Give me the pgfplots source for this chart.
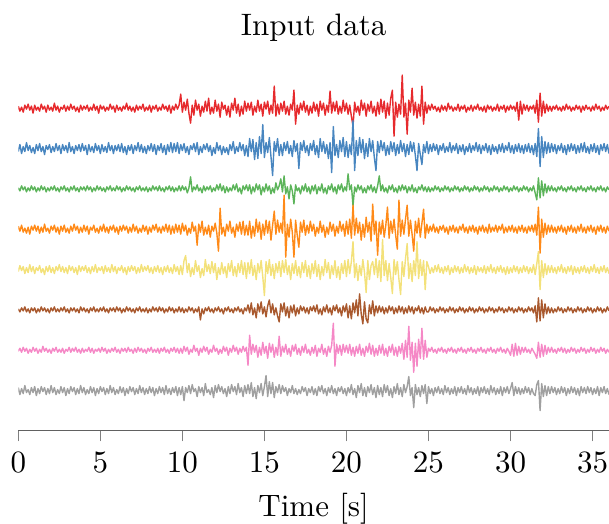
\documentclass[border=0pt]{standalone}
\usepackage{pgfplots}
\usepackage{pgfplotstable}
\pgfplotsset{compat=1.18}
\definecolor{cr}{HTML}{E62A2D}
\definecolor{cb}{HTML}{4886C0}
\definecolor{cg}{HTML}{5CB45A}
\definecolor{co}{HTML}{FF8A18}
\definecolor{cy}{HTML}{F3E17A}
\definecolor{cw}{HTML}{A9592E}
\definecolor{cp}{HTML}{F588C6}
\definecolor{ck}{HTML}{A0A0A0}
\pgfplotstableread{
t r b g o y w p k
0 2 -3 1 3 -2 1 -1 3
0.1 -3 4 -2 -2 4 -2 2 -4
0.2 1 -5 3 4 -1 2 -2 2
0.3 -4 2 -1 -3 3 -1 3 -3
0.4 3 -3 2 1 -4 3 -1 5
0.5 -1 6 -3 -4 2 -2 2 -2
0.6 4 -2 1 2 -3 1 -3 1
0.7 -2 3 -2 -5 5 -3 1 -4
0.8 2 -4 3 3 -2 2 -2 3
0.9 -5 1 -1 -1 3 -1 3 -2
1.0 3 -5 2 4 -4 2 -1 4
1.1 -2 4 -3 -2 2 -3 2 -5
1.2 1 -2 1 3 -1 1 -3 2
1.3 -3 5 -2 -4 4 -2 1 -3
1.4 4 -3 3 2 -3 3 -2 4
1.5 -1 2 -1 -3 1 -1 4 -1
1.6 2 -6 2 5 -5 2 -1 3
1.7 -4 3 -3 -2 3 -2 2 -4
1.8 3 -1 1 1 -2 1 -2 2
1.9 -2 4 -2 -4 4 -3 1 -3
2.0 1 -4 2 3 -3 2 -3 5
2.1 -3 2 -1 -1 2 -1 2 -2
2.2 5 -3 3 4 -4 3 -1 3
2.3 -2 5 -2 -3 3 -2 3 -4
2.4 2 -2 1 2 -1 1 -2 1
2.5 -4 3 -3 -5 5 -2 1 -3
2.6 1 -5 2 3 -2 2 -2 4
2.7 -1 4 -1 -2 3 -1 2 -2
2.8 3 -2 3 4 -3 3 -3 3
2.9 -3 3 -2 -3 2 -2 1 -5
3.0 2 -4 1 1 -4 1 -1 2
3.1 -2 6 -3 -4 4 -3 3 -3
3.2 4 -3 2 3 -1 2 -2 4
3.3 -1 2 -1 -2 3 -1 2 -1
3.4 2 -5 3 5 -3 2 -1 3
3.5 -3 3 -2 -1 2 -2 3 -4
3.6 1 -2 1 3 -5 1 -2 2
3.7 -4 4 -3 -4 4 -3 1 -3
3.8 3 -3 2 2 -2 3 -3 5
3.9 -2 5 -1 -3 3 -1 2 -2
4.0 2 -2 2 4 -1 2 -2 3
4.1 -1 3 -2 -2 4 -2 1 -4
4.2 3 -6 3 3 -3 1 -1 1
4.3 -3 4 -1 -5 2 -3 3 -3
4.4 1 -3 2 2 -4 2 -2 4
4.5 -2 2 -3 -1 3 -1 2 -2
4.6 4 -4 1 4 -2 3 -3 3
4.7 -2 5 -2 -3 5 -2 1 -5
4.8 2 -2 3 1 -3 1 -1 2
4.9 -5 3 -1 -4 2 -2 2 -3
5.0 3 -5 2 3 -1 2 -2 4
5.1 -1 4 -2 -2 3 -1 3 -1
5.2 2 -3 1 5 -4 3 -1 3
5.3 -3 2 -3 -3 4 -2 2 -4
5.4 1 -4 2 2 -2 1 -3 2
5.5 -2 6 -1 -4 2 -3 1 -3
5.6 4 -2 3 3 -3 2 -2 5
5.7 -1 3 -2 -1 5 -1 2 -2
5.8 2 -5 1 4 -2 2 -1 3
5.9 -4 3 -2 -3 3 -2 3 -4
6.0 3 -2 3 2 -4 3 -2 1
6.1 -2 4 -1 -5 2 -1 1 -3
6.2 1 -3 2 3 -1 2 -3 4
6.3 -3 5 -3 -2 4 -3 2 -2
6.4 2 -4 1 4 -3 1 -1 3
6.5 -1 2 -2 -1 2 -2 2 -5
6.6 5 -6 3 3 -5 3 -2 2
6.7 -2 3 -1 -4 3 -1 3 -3
6.8 2 -2 2 2 -2 2 -1 4
6.9 -3 4 -2 -3 4 -2 1 -1
7.0 1 -5 1 5 -1 1 -3 3
7.1 -4 3 -3 -2 3 -3 2 -4
7.2 3 -2 2 3 -4 2 -2 2
7.3 -2 6 -1 -4 2 -1 3 -3
7.4 2 -3 3 1 -3 3 -1 5
7.5 -1 4 -2 -3 5 -2 2 -2
7.6 4 -4 1 4 -2 1 -2 3
7.7 -3 2 -2 -2 3 -2 1 -4
7.8 1 -5 2 3 -1 2 -3 2
7.9 -2 3 -3 -5 4 -3 2 -3
8.0 3 -2 1 2 -3 1 -1 4
8.1 -4 5 -2 -3 2 -2 3 -2
8.2 2 -3 3 4 -4 3 -2 3
8.3 -1 4 -1 -1 3 -1 1 -5
8.4 3 -6 2 5 -2 2 -2 2
8.5 -3 3 -2 -3 4 -2 2 -3
8.6 1 -2 3 2 -3 3 -3 4
8.7 -2 5 -2 -4 2 -1 2 -2
8.8 4 -4 1 3 -5 2 -1 3
8.9 -1 3 -3 -2 3 -3 3 -4
9.0 2 -6 2 5 -2 1 -2 5
9.1 -3 4 -1 -3 4 -2 1 -3
9.2 3 -3 3 4 -3 3 -3 2
9.3 -5 6 -2 -5 2 -1 2 -4
9.4 2 -4 2 3 -4 2 -1 3
9.5 -2 5 -3 -4 5 -3 3 -2
9.6 4 -3 1 5 -2 1 -2 4
9.7 -1 6 -2 -3 3 -2 2 -5
9.8 3 -5 3 4 -5 3 -3 3
9.9 14 4 -2 -5 4 -2 2 -4
10.0 -4 -2 3 6 -5 2 -3 4
10.1 6 5 -1 -2 9 -3 4 -10
10.2 -2 -4 2 4 14 1 -1 3
10.3 9 2 -4 -6 -3 -2 3 -2
10.4 -5 -6 1 1 6 3 -4 5
10.5 -15 3 12 -4 -7 -1 1 -3
10.6 3 -1 -3 7 2 2 -2 6
10.7 -7 5 2 -2 -5 -3 5 -1
10.8 8 -3 -1 3 9 1 -1 2
10.9 -2 6 4 -16 -2 -2 2 -6
11.0 4 -6 -2 5 4 3 -5 4
11.1 -8 2 1 -3 -8 -10 2 -2
11.2 2 -4 -4 8 1 1 -2 3
11.3 -4 4 3 -6 -6 -4 4 -5
11.4 7 -1 -2 2 10 2 -1 7
11.5 -3 5 2 -5 -2 -1 3 -2
11.6 10 -3 -1 4 5 3 -4 1
11.7 -6 3 3 -8 -4 -2 1 -4
11.8 1 -7 -3 3 8 1 -2 3
11.9 -5 1 1 -2 -3 -3 5 -7
12.0 8 -5 -2 6 6 2 -1 5
12.1 -3 6 4 -4 -10 -1 2 -2
12.2 4 -2 -1 -22 2 3 -4 6
12.3 -9 3 5 21 -5 -2 1 -1
12.4 6 -6 -2 -5 7 1 -3 4
12.5 -1 2 3 2 -4 -4 4 -3
12.6 3 -4 -4 -7 3 2 -1 2
12.7 -7 1 2 5 -8 -1 3 -6
12.8 2 -6 -3 -2 6 3 -5 4
12.9 -9 4 1 8 -2 -2 2 -3
13.0 5 -2 -2 -4 9 1 -2 6
13.1 -2 7 4 2 -6 -3 5 -1
13.2 10 -5 -1 -8 3 2 -1 4
13.3 -5 2 5 5 -7 -1 3 -4
13.4 4 -3 -3 -2 6 3 -4 7
13.5 -8 6 1 7 -3 -2 2 -2
13.6 2 -2 -5 -5 9 1 -2 3
13.7 -6 4 3 8 -5 -4 4 -6
13.8 7 -7 -1 -6 7 2 -1 5
13.9 -3 3 4 4 -9 -1 3 -3
14.0 5 -8 -2 -6 7 5 -15 6
14.1 -2 10 4 8 -4 -3 15 -3
14.2 6 -3 -5 -9 10 7 -4 8
14.3 -7 9 2 3 -6 -5 6 -6
14.4 2 -11 -3 -7 4 2 -2 3
14.5 -4 6 5 10 -10 -8 5 -8
14.6 8 -10 -1 -3 6 6 -7 5
14.7 -3 12 4 7 -3 -2 3 -2
14.8 4 -5 -6 -10 9 8 -5 7
14.9 -8 24 2 5 -7 -4 8 -5
15.0 6 -9 -3 -6 -26 3 -3 4
15.1 -1 6 5 9 8 -7 4 15
15.2 7 -4 -2 -4 -4 4 -8 -6
15.3 -6 11 3 8 10 10 7 9
15.4 3 -8 -5 -11 -6 -3 -2 -3
15.5 -5 -27 1 4 5 6 6 8
15.6 22 7 -4 18 -9 -5 -7 -7
15.7 -8 -3 6 -5 6 2 3 4
15.8 4 10 -1 9 -3 -6 -5 -2
15.9 -6 -7 3 -3 8 -12 14 6
16.0 5 4 10 6 -7 6 -6 -3
16.1 -3 -7 -3 -4 9 -2 4 5
16.2 7 6 13 34 -3 7 -2 -1
16.3 -6 -2 -5 -28 10 -6 6 3
16.4 2 7 2 5 -5 3 -4 -5
16.5 -7 -5 -10 -8 4 -8 2 2
16.6 4 3 4 10 -10 4 -6 -2
16.7 -2 -8 -2 -3 6 -3 5 5
16.8 18 8 -15 -28 -4 5 -1 -3
16.9 -16 -3 4 9 9 -6 6 2
17.0 3 5 -2 -6 -6 2 -4 -4
17.1 -6 -20 1 -18 3 -4 2 1
17.2 5 6 -5 7 -8 4 -5 -3
17.3 -2 -2 3 -3 7 -1 4 4
17.4 7 8 -2 9 -3 3 -2 -1
17.5 -4 -4 5 -6 9 -3 6 3
17.6 3 3 -3 4 -7 2 -3 -5
17.7 -7 -7 2 -4 4 -4 1 2
17.8 2 5 -5 8 -9 3 -5 -2
17.9 -5 -2 3 -2 6 -1 3 4
18.0 6 8 -2 5 -4 4 -3 -4
18.1 -3 -6 4 -7 9 -2 5 2
18.2 4 3 -5 2 -7 5 -6 -5
18.3 -8 -9 2 -4 5 -4 2 4
18.4 7 10 -2 8 -10 1 -2 -1
18.5 -2 -3 5 -3 3 -5 6 5
18.6 5 7 -4 4 -6 3 -4 -3
18.7 -7 -5 1 -8 10 -2 2 2
18.8 3 4 -5 2 -3 5 -6 -5
18.9 -4 -10 3 -5 7 -3 4 3
19.0 17 6 -1 7 -9 2 -2 -2
19.1 -5 -24 5 -2 4 -5 5 5
19.2 6 22 -3 5 -5 4 27 -3
19.3 -3 -7 2 -7 9 -1 -16 2
19.4 7 4 -5 3 -8 5 6 -5
19.5 -6 -9 4 -4 3 -3 -3 3
19.6 2 8 -1 8 -10 2 5 -1
19.7 -5 -3 5 -2 6 -6 -5 4
19.8 8 11 -3 5 -4 4 6 -3
19.9 -3 -8 2 -7 9 -2 -2 2
20.0 5 7 -2 8 -7 6 5 -5
20.1 -6 -9 15 -5 10 -8 -3 3
20.2 3 4 -1 10 -4 4 6 -2
20.3 -8 -6 4 -9 8 -9 -5 6
20.4 -18 28 -17 24 28 7 3 -4
20.5 6 -22 2 -6 -8 -3 -6 2
20.6 -4 8 -3 11 6 10 4 -7
20.7 2 -7 4 -4 -11 -6 -3 5
20.8 -7 11 -1 7 4 16 6 -2
20.9 8 -4 3 -11 -6 -4 -5 7
21.0 -2 9 -4 5 10 -14 2 -5
21.1 5 -10 1 -8 -3 8 -6 3
21.2 -8 5 -4 12 -23 -9 4 -6
21.3 4 -8 3 -3 9 -13 -2 4
21.4 -3 10 -1 7 -10 5 7 -2
21.5 7 -3 4 -12 4 -4 -4 6
21.6 -5 8 -3 25 8 9 5 -4
21.7 2 -9 2 -5 -5 -6 -6 3
21.8 -8 -22 -4 8 11 4 2 -7
21.9 6 7 3 -26 -8 -3 -5 5
22.0 -6 -4 13 7 9 4 5 -4
22.1 9 8 -2 -5 -12 -2 -3 3
22.2 -4 -2 4 9 30 3 6 -6
22.3 7 6 -3 -8 -6 -4 -5 6
22.4 -10 -7 1 4 9 2 2 -2
22.5 5 3 -4 22 -11 -3 -6 5
22.6 -7 -6 3 -9 6 4 4 -5
22.7 10 7 -1 8 -8 -1 -2 2
22.8 18 -3 4 -4 -24 3 6 -7
22.9 -28 6 -3 10 10 -4 -5 4
23.0 6 -7 1 -6 -5 2 3 -3
23.1 -9 4 -4 -20 8 -3 -6 7
23.2 4 -5 3 29 -10 4 4 -4
23.3 -6 8 -2 -7 -25 -2 -3 3
23.4 33 -3 4 9 8 3 7 -6
23.5 -9 5 -1 -5 -7 -4 -9 6
23.6 5 -8 3 10 11 2 10 -2
23.7 -26 4 -4 24 26 -3 -7 4
23.8 8 -6 2 -7 -9 4 24 14
23.9 -4 7 -2 9 6 -2 -10 -5
24.0 20 -3 4 -5 -12 3 8 3
24.1 -7 6 -3 -22 9 -4 -22 -17
24.2 6 -7 1 8 -6 2 7 6
24.3 -10 -22 -4 -4 28 -1 -16 -4
24.4 4 5 2 11 -9 4 11 3
24.5 -8 -6 -1 -8 10 -3 -8 -6
24.6 22 -16 4 6 -6 2 22 5
24.7 -16 4 -2 20 9 -4 -9 -3
24.8 6 -4 2 -9 -20 3 10 6
24.9 -5 7 -3 5 8 -2 -7 -13
25.0 3 -5 2 -4 3 -2 2 4
25.1 -2 4 -3 3 -4 3 -1 -3
25.2 4 -3 1 -2 2 -1 3 2
25.3 -1 5 -2 5 -3 2 -2 -5
25.4 2 -2 3 -3 4 -3 1 3
25.5 -3 4 -1 2 -2 1 -3 -2
25.6 1 -6 2 -4 5 -2 2 4
25.7 -4 3 -3 3 -3 3 -1 -3
25.8 3 -2 1 -1 2 -1 3 2
25.9 -2 5 -2 4 -4 2 -2 -4
26.0 2 -4 3 -3 3 -3 1 5
26.1 -3 2 -1 2 -2 1 -3 -2
26.2 5 -3 2 -5 4 -2 2 3
26.3 -1 6 -3 3 -5 3 -1 -4
26.4 2 -4 1 -2 2 -1 3 2
26.5 -3 3 -2 4 -3 2 -2 -3
26.6 1 -2 3 -3 4 -3 1 4
26.7 -2 5 -1 2 -2 1 -3 -5
26.8 4 -5 2 -4 3 -2 2 3
26.9 -3 3 -3 3 -4 3 -1 -2
27.0 2 -3 1 -1 2 -1 3 4
27.1 -1 4 -2 5 -3 2 -2 -3
27.2 3 -6 3 -3 5 -3 1 2
27.3 -4 2 -1 2 -2 1 -3 -4
27.4 1 -3 2 -4 3 -2 2 5
27.5 -2 5 -3 3 -4 3 -1 -2
27.6 3 -4 1 -2 2 -1 3 3
27.7 -3 3 -2 4 -3 2 -2 -4
27.8 2 -2 3 -3 4 -3 1 2
27.9 -1 6 -1 2 -5 1 -3 -3
28.0 4 -3 2 -5 3 -2 2 4
28.1 -2 4 -3 3 -2 3 -1 -5
28.2 1 -5 1 -2 2 -1 3 3
28.3 -3 3 -2 4 -3 2 -2 -2
28.4 2 -2 3 -3 4 -3 1 4
28.5 -4 5 -1 2 -4 1 -3 -3
28.6 3 -4 2 -4 3 -2 2 2
28.7 -1 3 -3 5 -2 3 -1 -4
28.8 2 -6 1 -3 5 -1 3 5
28.9 -3 4 -2 2 -3 2 -2 -2
29.0 1 -3 3 -2 2 -3 1 3
29.1 -2 2 -1 4 -4 1 -3 -4
29.2 4 -5 2 -3 3 -2 2 2
29.3 -3 4 -3 3 -2 3 -1 -3
29.4 2 -3 1 -1 4 -1 3 4
29.5 -1 5 -2 5 -3 2 -2 -5
29.6 3 -4 3 -4 2 -3 1 3
29.7 -4 3 -1 2 -5 1 -3 -2
29.8 2 -2 2 -3 3 -2 2 4
29.9 -2 6 -3 3 -4 3 -1 -3
30.0 3 -4 1 -2 2 -1 -5 2
30.1 -1 3 -2 4 -3 2 6 8
30.2 2 -5 3 -3 4 -3 -6 -5
30.3 -3 4 -1 2 -2 1 7 4
30.4 6 -3 2 -4 3 -2 -5 -3
30.5 -12 5 -3 3 -4 3 4 3
30.6 7 -4 1 -2 2 -1 -4 -4
30.7 -6 3 -2 4 -3 2 3 2
30.8 4 -5 3 -3 4 -3 -2 -3
30.9 -2 4 -1 2 -2 1 3 4
31.0 3 -3 2 -4 3 -2 -2 -2
31.1 -3 5 -3 3 -4 3 1 3
31.2 2 -4 1 -2 2 -1 -3 -4
31.3 -1 3 -2 4 -3 2 2 2
31.4 3 -6 3 -3 5 -3 -1 -3
31.5 -5 5 -4 5 -5 4 -4 -5
31.6 8 -8 -11 -6 6 -12 -8 6
31.7 -14 20 11 22 18 12 8 10
31.8 15 -18 -9 -24 -20 -11 -7 -20
31.9 -8 12 8 10 9 10 6 7
32.0 7 -9 -7 -8 -8 -8 -6 -6
32.1 -5 7 5 6 6 6 5 5
32.2 4 -5 -4 -5 -5 -4 -4 -5
32.3 -3 6 3 4 4 3 3 4
32.4 2 -4 -2 -3 -3 -3 -2 -3
32.5 -3 5 3 4 4 2 3 4
32.6 2 -3 -2 -3 -3 -3 -2 -2
32.7 -1 4 1 2 2 1 1 3
32.8 3 -5 -3 -4 -4 -2 -3 -4
32.9 -2 3 2 3 3 3 2 2
33.0 1 -2 -1 -2 -2 -1 -1 -3
33.1 -3 5 3 4 5 2 3 4
33.2 2 -4 -2 -3 -3 -3 -2 -2
33.3 -2 3 1 2 2 1 2 3
33.4 4 -6 -3 -5 -4 -2 -3 -5
33.5 -1 4 2 3 3 3 1 2
33.6 2 -3 -1 -2 -2 -1 -2 -3
33.7 -3 5 3 4 4 2 3 4
33.8 1 -2 -2 -3 -5 -3 -1 -2
33.9 -2 4 1 2 3 1 2 3
34.0 3 -5 -3 -4 -3 -2 -3 -4
34.1 -1 3 2 3 2 3 1 2
34.2 2 -4 -1 -2 -4 -1 -2 -5
34.3 -4 5 3 5 3 2 3 4
34.4 2 -3 -2 -3 -2 -3 -1 -2
34.5 -2 6 1 2 4 1 2 3
34.6 3 -4 -3 -4 -3 -2 -3 -3
34.7 -1 2 2 3 2 3 1 4
34.8 1 -5 -1 -2 -4 -1 -2 -2
34.9 -3 4 3 4 3 2 3 3
35.0 2 -3 -2 -3 -2 -3 -1 -4
35.1 -2 5 1 2 5 1 2 2
35.2 4 -4 -3 -5 -3 -2 -3 -3
35.3 -1 3 2 3 2 3 1 4
35.4 2 -6 -1 -2 -4 -1 -2 -5
35.5 -3 4 3 4 3 2 3 3
35.6 1 -2 -2 -3 -2 -3 -1 -2
35.7 -2 5 1 2 4 1 2 4
35.8 3 -3 -3 -4 -3 -2 -3 -3
35.9 -1 4 2 3 2 3 1 2
36.0 2 -5 -1 -2 -4 -1 -2 -4
}\data
\begin{document}
\begin{tikzpicture}
\begin{axis}[
  width=190.55pt, height=122.5pt, scale only axis,
  xmin=0, xmax=36, ymin=0, ymax=379.7,
  axis x line=bottom, axis y line=none,
  x axis line style={-, draw=black!62},
  xtick={0,5,...,35},
  tick align=outside, major tick length=3.5pt,
  xtick style={draw=black!50, line width=0.4pt},
  ytick=\empty,
  title={Input data},
  title style={yshift=-6.5pt},
  xlabel={Time [s]},
  every axis plot/.append style={line width=0.45pt, line join=round},
]
\addplot[cr] table[x=t, y expr=\thisrow{r}+322.4]{\data};
\addplot[cb] table[x=t, y expr=\thisrow{b}+282]{\data};
\addplot[cg] table[x=t, y expr=\thisrow{g}+241.7]{\data};
\addplot[co] table[x=t, y expr=\thisrow{o}+201.4]{\data};
\addplot[cy] table[x=t, y expr=\thisrow{y}+161]{\data};
\addplot[cw] table[x=t, y expr=\thisrow{w}+120.7]{\data};
\addplot[cp] table[x=t, y expr=\thisrow{p}+80.3]{\data};
\addplot[ck] table[x=t, y expr=\thisrow{k}+40]{\data};
\coordinate (o) at (rel axis cs:0,0);
\end{axis}
\pgfresetboundingbox
\path ([shift={(-5.9pt,-30.1pt)}]o) rectangle ([shift={(190.55pt,138.9pt)}]o);
\end{tikzpicture}
\end{document}
